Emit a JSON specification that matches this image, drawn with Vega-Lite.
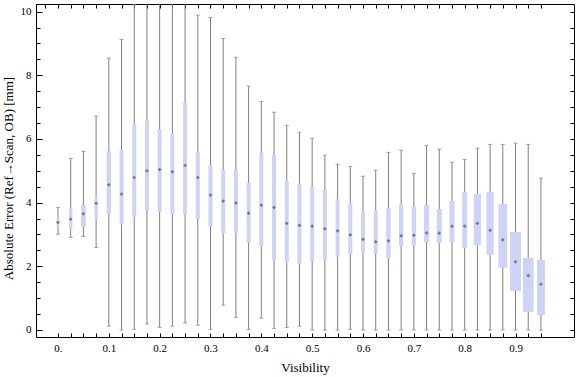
{
  "$schema": "https://vega.github.io/schema/vega-lite/v6.json",
  "width": 538,
  "height": 333,
  "autosize": {"type": "none"},
  "padding": {"left": 36, "top": 4, "right": 2, "bottom": 40},
  "background": "white",
  "config": {
    "view": {"stroke": "#000000", "strokeWidth": 1},
    "font": "Liberation Serif",
    "axis": {
      "domain": false,
      "grid": false,
      "labelFont": "Liberation Serif",
      "labelFontSize": 11,
      "labelColor": "#000000",
      "tickColor": "#000000",
      "tickWidth": 1,
      "titleFont": "Liberation Serif",
      "titleFontSize": 13,
      "titleFontWeight": "normal",
      "titleColor": "#000000"
    }
  },
  "data": {
    "values": [
      {"v": 0.000, "hi": 3.85, "q3": 3.51, "med": 3.38, "q1": 3.27, "lo": 3.01, "n": 2.7},
      {"v": 0.025, "hi": 5.39, "q3": 3.82, "med": 3.48, "q1": 3.14, "lo": 2.91, "n": 3.3},
      {"v": 0.050, "hi": 5.61, "q3": 3.93, "med": 3.65, "q1": 3.24, "lo": 2.94, "n": 4.7},
      {"v": 0.075, "hi": 6.72, "q3": 4.17, "med": 3.98, "q1": 3.49, "lo": 2.59, "n": 3.3},
      {"v": 0.100, "hi": 8.54, "q3": 5.62, "med": 4.56, "q1": 3.65, "lo": 0.12, "n": 4.3},
      {"v": 0.125, "hi": 9.13, "q3": 5.65, "med": 4.27, "q1": 3.32, "lo": 0.00, "n": 4},
      {"v": 0.150, "hi": 10.22, "q3": 6.47, "med": 4.79, "q1": 3.55, "lo": 0.02, "n": 4},
      {"v": 0.175, "hi": 11.5, "q3": 6.60, "med": 5.00, "q1": 3.77, "lo": 0.19, "n": 4},
      {"v": 0.200, "hi": 11.5, "q3": 6.31, "med": 5.04, "q1": 3.71, "lo": 0.08, "n": 4},
      {"v": 0.225, "hi": 11.5, "q3": 6.16, "med": 4.97, "q1": 3.64, "lo": 0.12, "n": 4},
      {"v": 0.250, "hi": 11.5, "q3": 7.13, "med": 5.17, "q1": 3.64, "lo": 0.22, "n": 4},
      {"v": 0.275, "hi": 9.89, "q3": 5.58, "med": 4.79, "q1": 3.49, "lo": 0.15, "n": 4},
      {"v": 0.300, "hi": 9.82, "q3": 5.18, "med": 4.24, "q1": 3.25, "lo": 0.02, "n": 4},
      {"v": 0.325, "hi": 9.16, "q3": 5.03, "med": 4.05, "q1": 3.03, "lo": 0.78, "n": 4},
      {"v": 0.350, "hi": 8.57, "q3": 5.03, "med": 3.99, "q1": 3.06, "lo": 0.40, "n": 4},
      {"v": 0.375, "hi": 7.66, "q3": 4.62, "med": 3.67, "q1": 2.74, "lo": 0.02, "n": 4},
      {"v": 0.400, "hi": 7.18, "q3": 5.58, "med": 3.92, "q1": 2.63, "lo": 0.37, "n": 4},
      {"v": 0.425, "hi": 6.84, "q3": 5.50, "med": 3.85, "q1": 2.21, "lo": 0.05, "n": 4},
      {"v": 0.450, "hi": 6.43, "q3": 4.68, "med": 3.35, "q1": 2.13, "lo": 0.08, "n": 4},
      {"v": 0.475, "hi": 6.21, "q3": 4.59, "med": 3.29, "q1": 2.08, "lo": 0.12, "n": 4},
      {"v": 0.500, "hi": 6.02, "q3": 4.51, "med": 3.26, "q1": 2.16, "lo": 0.00, "n": 4},
      {"v": 0.525, "hi": 5.49, "q3": 4.40, "med": 3.18, "q1": 2.18, "lo": 0.00, "n": 4},
      {"v": 0.550, "hi": 5.21, "q3": 4.11, "med": 3.11, "q1": 2.30, "lo": 0.00, "n": 4},
      {"v": 0.575, "hi": 5.14, "q3": 3.99, "med": 2.99, "q1": 2.39, "lo": 0.02, "n": 4},
      {"v": 0.600, "hi": 4.83, "q3": 3.70, "med": 2.85, "q1": 2.44, "lo": 0.00, "n": 4},
      {"v": 0.625, "hi": 5.02, "q3": 3.76, "med": 2.77, "q1": 2.39, "lo": 0.00, "n": 4},
      {"v": 0.650, "hi": 5.58, "q3": 3.82, "med": 2.80, "q1": 2.24, "lo": 0.00, "n": 4.3},
      {"v": 0.675, "hi": 5.65, "q3": 3.95, "med": 2.96, "q1": 2.64, "lo": 0.00, "n": 4.3},
      {"v": 0.700, "hi": 4.92, "q3": 3.86, "med": 2.98, "q1": 2.67, "lo": 0.00, "n": 4.3},
      {"v": 0.725, "hi": 5.80, "q3": 3.93, "med": 3.05, "q1": 2.76, "lo": 0.00, "n": 5.3},
      {"v": 0.750, "hi": 5.68, "q3": 3.80, "med": 3.04, "q1": 2.73, "lo": 0.00, "n": 5},
      {"v": 0.775, "hi": 5.27, "q3": 4.05, "med": 3.26, "q1": 2.76, "lo": 0.00, "n": 5},
      {"v": 0.800, "hi": 5.36, "q3": 4.34, "med": 3.26, "q1": 2.58, "lo": 0.00, "n": 5},
      {"v": 0.825, "hi": 5.71, "q3": 4.27, "med": 3.35, "q1": 2.67, "lo": 0.00, "n": 7.3},
      {"v": 0.850, "hi": 5.83, "q3": 4.34, "med": 3.13, "q1": 2.36, "lo": 0.00, "n": 7.3},
      {"v": 0.875, "hi": 5.83, "q3": 3.96, "med": 2.83, "q1": 1.96, "lo": 0.00, "n": 8.7},
      {"v": 0.900, "hi": 5.87, "q3": 3.08, "med": 2.14, "q1": 1.23, "lo": 0.00, "n": 11},
      {"v": 0.925, "hi": 5.83, "q3": 2.26, "med": 1.71, "q1": 0.57, "lo": 0.00, "n": 10.7},
      {"v": 0.950, "hi": 4.77, "q3": 2.20, "med": 1.44, "q1": 0.47, "lo": 0.00, "n": 8}
    ]
  },
  "layer": [
    {
      "mark": {"type": "rule", "color": "#808080", "strokeWidth": 1, "clip": true},
      "encoding": {
        "x": {
          "field": "v", "type": "quantitative",
          "scale": {"domain": [-0.0334, 1.0052], "nice": false, "zero": false},
          "axis": {
            "orient": "bottom",
            "title": "Visibility",
            "values": [0, 0.025, 0.05, 0.075, 0.1, 0.125, 0.15, 0.175, 0.2, 0.225, 0.25, 0.275, 0.3, 0.325, 0.35, 0.375, 0.4, 0.425, 0.45, 0.475, 0.5, 0.525, 0.55, 0.575, 0.6, 0.625, 0.65, 0.675, 0.7, 0.725, 0.75, 0.775, 0.8, 0.825, 0.85, 0.875, 0.9, 0.925, 0.95],
            "labelExpr": "datum.value < 0.001 ? '0.' : (abs(datum.value * 10 - round(datum.value * 10)) < 0.01 ? format(datum.value, '.1f') : '')",
            "tickSize": -4,
            "labelPadding": 9,
            "labelFlush": false,
            "labelOverlap": false,
            "titlePadding": 8
          }
        },
        "y": {
          "field": "lo", "type": "quantitative",
          "scale": {"domain": [-0.22, 10.24], "nice": false, "zero": false},
          "axis": {
            "orient": "left",
            "title": "Absolute Error (Ref→Scan, OB) [mm]",
            "values": [0, 0.5, 1, 1.5, 2, 2.5, 3, 3.5, 4, 4.5, 5, 5.5, 6, 6.5, 7, 7.5, 8, 8.5, 9, 9.5, 10],
            "labelExpr": "abs(datum.value / 2 - round(datum.value / 2)) < 0.01 ? format(datum.value, 'd') : ''",
            "tickSize": {"condition": {"test": "abs(datum.value / 2 - round(datum.value / 2)) < 0.01", "value": -6}, "value": -4},
            "labelPadding": 11,
            "labelFlush": false,
            "labelOverlap": false,
            "titlePadding": 5,
            "titleY": 174
          }
        },
        "y2": {"field": "hi"}
      }
    },
    {
      "mark": {"type": "tick", "orient": "horizontal", "color": "#808080", "size": 4, "thickness": 1, "clip": true},
      "encoding": {
        "x": {"field": "v", "type": "quantitative", "axis": null},
        "y": {"field": "hi", "type": "quantitative", "axis": null}
      }
    },
    {
      "mark": {"type": "tick", "orient": "horizontal", "color": "#808080", "size": 4, "thickness": 1, "clip": true},
      "encoding": {
        "x": {"field": "v", "type": "quantitative", "axis": null},
        "y": {"field": "lo", "type": "quantitative", "axis": null}
      }
    },
    {
      "mark": {"type": "bar", "color": "#cdd4f5", "clip": true},
      "encoding": {
        "x": {
          "field": "v", "type": "quantitative",
          "axis": {
            "orient": "top",
            "title": null,
            "labels": false,
            "values": [-0.025, 0, 0.025, 0.05, 0.075, 0.1, 0.125, 0.15, 0.175, 0.2, 0.225, 0.25, 0.275, 0.3, 0.325, 0.35, 0.375, 0.4, 0.425, 0.45, 0.475, 0.5, 0.525, 0.55, 0.575, 0.6, 0.625, 0.65, 0.675, 0.7, 0.725, 0.75, 0.775, 0.8, 0.825, 0.85, 0.875, 0.9, 0.925, 0.95],
            "tickSize": -4
          }
        },
        "y": {
          "field": "q1", "type": "quantitative",
          "axis": {
            "orient": "right",
            "title": null,
            "labels": false,
            "values": [0, 0.5, 1, 1.5, 2, 2.5, 3, 3.5, 4, 4.5, 5, 5.5, 6, 6.5, 7, 7.5, 8, 8.5, 9, 9.5, 10],
            "tickSize": -4
          }
        },
        "y2": {"field": "q3"},
        "size": {"field": "n", "type": "quantitative", "scale": {"domain": [0, 12], "range": [0, 12], "zero": true}, "legend": null}
      }
    },
    {
      "mark": {"type": "point", "shape": "diamond", "filled": true, "color": "#6e6e6e", "size": 14, "opacity": 0.9, "clip": true},
      "encoding": {
        "x": {"field": "v", "type": "quantitative", "axis": null},
        "y": {"field": "med", "type": "quantitative", "axis": null}
      }
    }
  ],
  "resolve": {"axis": {"x": "independent", "y": "independent"}}
}
